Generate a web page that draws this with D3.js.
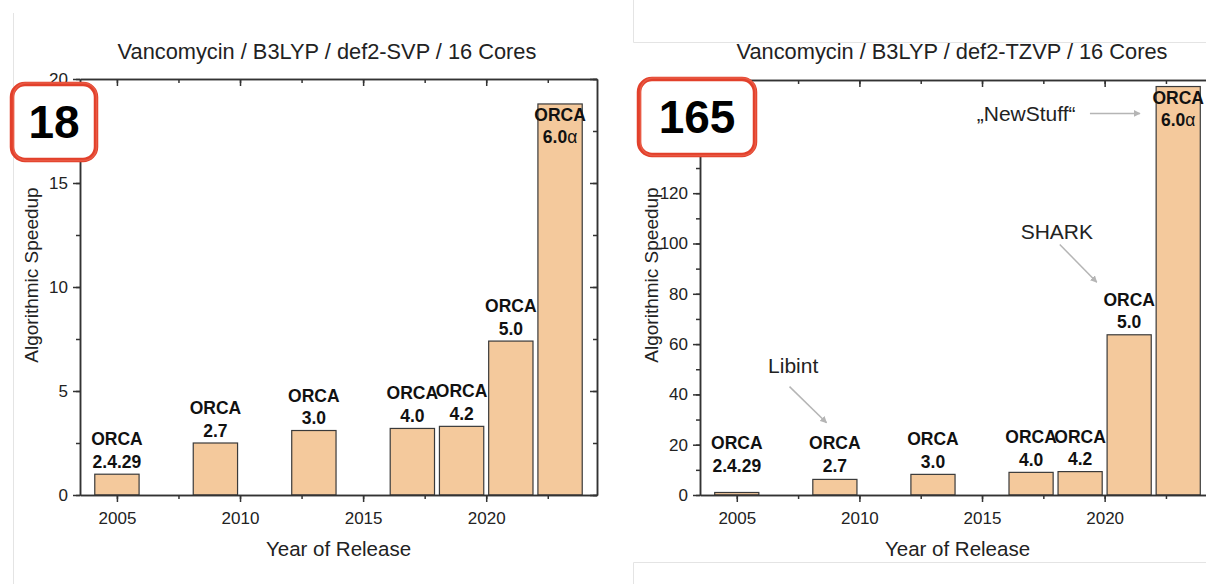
<!DOCTYPE html>
<html>
<head>
<meta charset="utf-8">
<script src="https://cdn.jsdelivr.net/npm/d3@7"></script>
<style>
	body { margin: 0; background: #fff; }
	svg { display: block; font-family: "Liberation Sans", Arial, Helvetica, sans-serif; }
	.axis path, .axis line { stroke: #333; stroke-width: 1.5; }
</style>
</head>
<body>
<svg width="1206" height="584"></svg>
<script>
// release year of each ORCA version
var years = [2005, 2009, 2013, 2017, 2019, 2021, 2023];
var versions = ['2.4.29', '2.7', '3.0', '4.0', '4.2', '5.0', '6.0'];
var speedupSVP = [1.0, 2.5, 3.1, 3.2, 3.3, 7.4, 18.8];
var speedupTZVP = [1.0, 6.2, 8.2, 9.0, 9.3, 63.7, 162.4];
var yearTicks = [2005, 2010, 2015, 2020];
var yTicksSVP = [0, 5, 10, 15, 20];
var yLabelsSVP = [0, 5, 10, 15, 20];
var yTicksTZVP = [0, 20, 40, 60, 80, 100, 120, 140, 160];
var yLabelsTZVP = [0, 20, 40, 60, 80, 100, 120]; // 140, 160 sit under the badge
var titles = ['Vancomycin / B3LYP / def2-SVP / 16 Cores', 'Vancomycin / B3LYP / def2-TZVP / 16 Cores'];
var badges = ['18', '165'];
// annotations in data coords: label pos, arrow from, arrow to
var notesTZVP = [
	{text: 'Libint', at: [2007.3, 48.6], from: [2007.15, 43.1], to: [2008.66, 28.7]},
	{text: 'SHARK', at: [2018.05, 101.6], from: [2018.17, 99.6], to: [2019.68, 84.6]},
	{text: '\u201eNewStuff\u201c', at: [2016.8, 148.7], from: [2019.4, 151.7], to: [2021.44, 151.7]}
];

var svg = d3.select('svg');

svg.append('defs').append('marker')
	.attr('id', 'arr')
	.attr('viewBox', '0 0 10 10')
	.attr('refX', 9).attr('refY', 5)
	.attr('markerWidth', 7).attr('markerHeight', 7)
	.attr('markerUnits', 'userSpaceOnUse')
	.attr('orient', 'auto')
	.append('path')
	.attr('d', 'M0,0 L10,5 L0,10 z')
	.attr('fill', '#b5b5b5');

// faint borders of the two screenshots
var frame = svg.append('g').attr('stroke', '#e4e4e4').attr('stroke-width', 1).attr('fill', 'none');
frame.append('path').attr('d', 'M13.5,13 V584');
frame.append('path').attr('d', 'M633.5,0 V42.5 H1206');
frame.append('path').attr('d', 'M633.5,584 V562.5 H1206');

function drawPanel(p) {
	var x = d3.scaleLinear().domain([2003.5, 2024.5]).range([p.left, p.right]);
	var y = d3.scaleLinear().domain([0, p.yMax]).range([p.bottom, p.top]);
	var g = svg.append('g');
	var barW = x(2004.4) - x(2002.6);

	// bars
	g.selectAll('rect.bar')
		.data(p.values)
		.enter().append('rect')
		.attr('class', 'bar')
		.attr('x', function(d, i) { return x(years[i]) - barW / 2; })
		.attr('y', function(d) { return y(d); })
		.attr('width', barW)
		.attr('height', function(d) { return y(0) - y(d); })
		.attr('fill', '#f4c99c')
		.attr('stroke', '#3a3a3a')
		.attr('stroke-width', 1.2);

	// axes
	var minorX = d3.range(2005, 2024.6, 2.5);
	var minorY = d3.range(0, p.yMax + 0.01, p.minorStep);
	var yFmt = function(d) { return p.yLabels.indexOf(d) >= 0 ? d : ''; };

	g.append('g').attr('class', 'axis')
		.attr('transform', 'translate(0,' + p.bottom + ')')
		.call(d3.axisBottom(x).tickValues(minorX).tickSize(4).tickSizeOuter(0).tickFormat(''));
	g.append('g').attr('class', 'axis')
		.attr('transform', 'translate(0,' + p.bottom + ')')
		.call(d3.axisBottom(x).tickValues(yearTicks).tickSize(7).tickSizeOuter(0).tickPadding(10).tickFormat(d3.format('d')));
	g.append('g').attr('class', 'axis')
		.attr('transform', 'translate(0,' + p.top + ')')
		.call(d3.axisTop(x).tickValues(minorX).tickSize(-4).tickSizeOuter(0).tickFormat(''));
	g.append('g').attr('class', 'axis')
		.attr('transform', 'translate(0,' + p.top + ')')
		.call(d3.axisTop(x).tickValues(yearTicks).tickSize(-7).tickSizeOuter(0).tickFormat(''));

	g.append('g').attr('class', 'axis')
		.attr('transform', 'translate(' + p.left + ',0)')
		.call(d3.axisLeft(y).tickValues(minorY).tickSize(4).tickSizeOuter(0).tickFormat(''));
	g.append('g').attr('class', 'axis')
		.attr('transform', 'translate(' + p.left + ',0)')
		.call(d3.axisLeft(y).tickValues(p.yTicks).tickSize(7).tickSizeOuter(0).tickPadding(5).tickFormat(yFmt));
	g.append('g').attr('class', 'axis')
		.attr('transform', 'translate(' + p.right + ',0)')
		.call(d3.axisRight(y).tickValues(minorY).tickSize(-4).tickSizeOuter(0).tickFormat(''));
	g.append('g').attr('class', 'axis')
		.attr('transform', 'translate(' + p.right + ',0)')
		.call(d3.axisRight(y).tickValues(p.yTicks).tickSize(-7).tickSizeOuter(0).tickFormat(''));

	g.selectAll('.axis').attr('font-family', null).attr('font-size', null);
	g.selectAll('.axis text').filter(function() { return this.textContent === ''; }).remove();
	g.selectAll('.axis text')
		.attr('font-size', '17px')
		.attr('fill', '#222');

	// bar labels
	var labels = g.selectAll('text.lbl')
		.data(p.values)
		.enter().append('text')
		.attr('class', 'lbl')
		.attr('text-anchor', 'middle')
		.attr('font-weight', 'bold')
		.attr('font-size', '17.5px')
		.attr('fill', '#111')
		.attr('transform', function(d, i) {
			var base;
			if (y(d) < p.top + 40) {
				base = y(d) + 17; // inside the tall bar
			} else {
				base = Math.min(y(d) - 7, y(0) - 24) - 22;
			}
			return 'translate(' + x(years[i]) + ',' + base + ')';
		});
	labels.append('tspan').attr('x', 0).attr('y', 0).text('ORCA');
	var v = labels.append('tspan').attr('x', 0).attr('y', 22.5);
	v.append('tspan').text(function(d, i) { return versions[i]; });
	v.filter(function(d, i) { return i === versions.length - 1; })
		.append('tspan')
		.attr('font-weight', 'normal')
		.text('\u03b1');

	// titles
	g.append('text')
		.attr('x', p.titleX)
		.attr('y', 59)
		.attr('text-anchor', 'middle')
		.attr('font-size', '21.8px')
		.attr('fill', '#222')
		.text(p.title);
	g.append('text')
		.attr('x', (p.left + p.right) / 2)
		.attr('y', 556)
		.attr('text-anchor', 'middle')
		.attr('font-size', '20.5px')
		.attr('fill', '#222')
		.text('Year of Release');
	g.append('text')
		.attr('transform', 'translate(' + (p.left - 42) + ',' + 275 + ') rotate(-90)')
		.attr('text-anchor', 'middle')
		.attr('font-size', '19px')
		.attr('fill', '#222')
		.text('Algorithmic Speedup');

	// annotations
	(p.notes || []).forEach(function(n) {
		g.append('text')
			.attr('x', x(n.at[0]))
			.attr('y', y(n.at[1]))
			.attr('text-anchor', 'middle')
			.attr('font-size', '21px')
			.attr('fill', '#222')
			.text(n.text);
		g.append('line')
			.attr('x1', x(n.from[0])).attr('y1', y(n.from[1]))
			.attr('x2', x(n.to[0])).attr('y2', y(n.to[1]))
			.attr('stroke', '#b5b5b5')
			.attr('stroke-width', 1.5)
			.attr('marker-end', 'url(#arr)');
	});

	// red badge
	var b = p.badge;
	g.append('rect')
		.attr('x', b.x).attr('y', b.y)
		.attr('width', b.w).attr('height', b.h)
		.attr('rx', 13)
		.attr('fill', '#fff')
		.attr('stroke', '#e2402b')
		.attr('stroke-width', 4.5);
	g.append('rect')
		.attr('x', b.x + 1.5).attr('y', b.y - 1)
		.attr('width', b.w - 1).attr('height', b.h + 1.5)
		.attr('rx', 13)
		.attr('fill', 'none')
		.attr('stroke', '#ef6a55')
		.attr('stroke-opacity', 0.6)
		.attr('stroke-width', 1.5);
	g.append('text')
		.attr('x', b.x + b.w / 2)
		.attr('y', b.y + b.h / 2 + 16)
		.attr('text-anchor', 'middle')
		.attr('font-weight', 'bold')
		.attr('font-size', '46px')
		.attr('fill', '#000')
		.text(p.badgeText);
}

drawPanel({
	left: 80, right: 597, top: 79, bottom: 495,
	yMax: 20, yTicks: yTicksSVP, yLabels: yLabelsSVP, minorStep: 2.5,
	values: speedupSVP, title: titles[0], titleX: 327,
	badge: {x: 12, y: 84, w: 84, h: 76}, badgeText: badges[0]
});
drawPanel({
	left: 700, right: 1215, top: 80, bottom: 495,
	yMax: 165, yTicks: yTicksTZVP, yLabels: yLabelsTZVP, minorStep: 10,
	values: speedupTZVP, title: titles[1], titleX: 952,
	notes: notesTZVP,
	badge: {x: 639, y: 79, w: 116, h: 76}, badgeText: badges[1]
});
</script>
</body>
</html>
